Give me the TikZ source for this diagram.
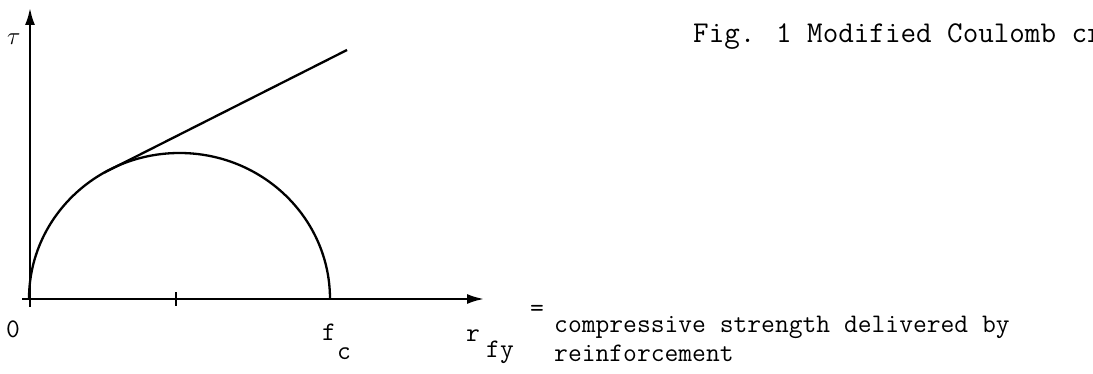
\documentclass[tikz,border=0pt]{standalone}
\usetikzlibrary{arrows.meta}
\tikzset{
  mcline/.style={line width=2.3pt, draw=black},
  mcaxis/.style={mcline, -{Latex[length=17pt,width=10pt]}},
  mctext/.style={font=\fontsize{26.8}{30}\selectfont\ttfamily, inner sep=0pt, anchor=base west},
  mctitle/.style={mctext, font=\fontsize{30.2}{34}\selectfont\ttfamily}
}
\begin{document}
\begin{tikzpicture}[x=1pt,y=1pt]
  \useasboundingbox (0,0) rectangle (1093,374);
  \clip (0,0) rectangle (1093,374);
  % axes
  \coordinate (xstart) at (22,75);
  \coordinate (xend) at (484,75);
  \coordinate (ystart) at (30,67);
  \coordinate (yend) at (30,366);
  \coordinate (tickb) at (176,68);
  \coordinate (ticka) at (176,82);
  \draw[mcaxis] (xstart) -- (xend);
  \draw[mcaxis] (ystart) -- (yend);
  \draw[mcline] (tickb) -- (ticka);
  % circle and envelope
  \coordinate (fc) at (330,75);
  \coordinate (tp) at (104.25,201.4);
  \coordinate (lend) at (347,324);
  \draw[mcline] (fc) arc[start angle=0, end angle=180, x radius=150.5, y radius=146];
  \draw[mcline] (tp) -- (lend);
  % labels
  \node[mctext] (tau) at (7,329) {$\tau$};
  \node[mctext] (zero) at (6,36) {0};
  \node[mctext] (fcf) at (322,33) {f};
  \node[mctext] (fcc) at (337,14) {c};
  \node[mctext] (rr) at (466,32) {r};
  \node[mctext] (rfy) at (486,16) {fy};
  \node[mctext] (eq) at (530,57) {=};
  \node[mctext] (defa) at (554,41) {compressive strength delivered by};
  \node[mctext] (defb) at (554,12) {reinforcement};
  \node[mctitle] (title) at (693,331) {Fig. 1 Modified Coulomb cr};
\end{tikzpicture}
\end{document}
